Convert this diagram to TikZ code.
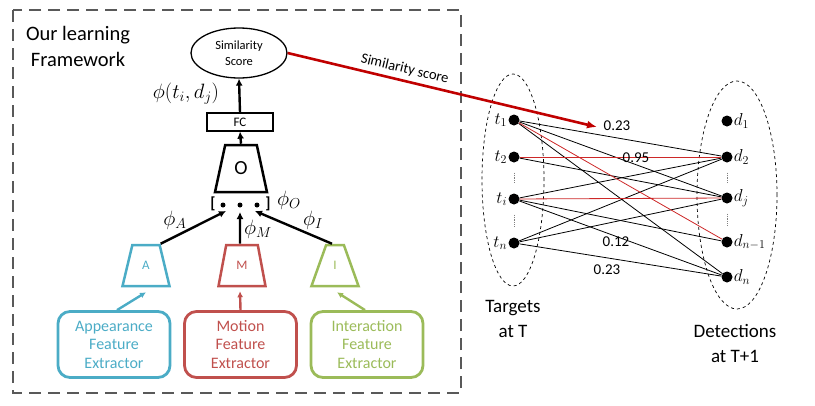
\documentclass[tikz,border=0pt]{standalone}
\usepackage{fontspec}
\setmainfont{Carlito}
\usetikzlibrary{shapes.geometric,arrows.meta,calc}
\definecolor{cA}{RGB}{75,172,198}
\definecolor{cM}{RGB}{192,80,77}
\definecolor{cI}{RGB}{155,187,89}
\definecolor{dred}{RGB}{192,0,0}
\definecolor{ered}{RGB}{205,40,40}
\definecolor{fgray}{RGB}{89,89,89}
\begin{document}
\begin{tikzpicture}[x=1pt,y=-1pt,
  trap/.style={trapezium, trapezium left angle=72, trapezium right angle=72, trapezium stretches=true,
    line width=2.5pt, minimum width=47pt, minimum height=41pt, inner sep=0pt, font=\fontsize{13}{15}\selectfont},
  featbox/.style={draw, rounded corners=12pt, line width=2.8pt, minimum width=112pt, minimum height=66pt,
    inner sep=0pt, align=center, font=\fontsize{16}{18.5}\selectfont},
  bigarrow/.style={line width=2.4pt, -{Latex[length=7pt,width=7pt]}},
  colarrow/.style={line width=2.4pt, -{Latex[length=6pt,width=6pt]}},
  mathlbl/.style={font=\fontsize{21}{24}\selectfont, inner sep=0pt},
  vdot/.style={circle, fill, inner sep=0pt, minimum size=5pt},
  gdot/.style={circle, fill, inner sep=0pt, minimum size=11pt},
  tlbl/.style={font=\fontsize{17}{20}\selectfont, inner sep=1pt},
  edge/.style={line width=0.8pt},
  redge/.style={line width=0.8pt, ered},
  numlbl/.style={font=\fontsize{15}{18}\selectfont, inner sep=0pt},
  setell/.style={ellipse, draw, dashed, line width=0.7pt, inner sep=0pt},
  bigtext/.style={align=center, font=\fontsize{19}{25}\selectfont, inner sep=0pt},
]
\useasboundingbox (0,0) rectangle (815,405);

% framework box
\draw[fgray, line width=2.8pt, dash pattern=on 12pt off 7pt] (13,10) rectangle (461,393);
\node[align=center, font=\fontsize{20.5}{26}\selectfont, inner sep=0pt] (title) at (78,46) {Our learning\\Framework};

% top part
\node[ellipse, draw, line width=1.3pt, minimum width=96pt, minimum height=50pt, inner sep=0pt,
  align=center, font=\fontsize{12.5}{15.5}\selectfont] (sim) at (239,53) {Similarity\\Score};
\node[draw, line width=1.3pt, minimum width=66pt, minimum height=18pt, inner sep=0pt,
  font=\fontsize{13}{15}\selectfont] (fc) at (240,122) {FC};
\node[trap, draw, minimum width=52pt, minimum height=47pt, font=\fontsize{20}{24}\selectfont] (O) at (241,168.5) {O};
\node[mathlbl] (phiij) at (186,94) {$\phi(t_i,d_j)$};

\node[font=\fontsize{16}{18}\selectfont\bfseries, inner sep=0pt] (lb) at (213,204) {[};
\node[font=\fontsize{16}{18}\selectfont\bfseries, inner sep=0pt] (rb) at (268,204) {]};
\node[vdot] (v1) at (223,205) {};
\node[vdot] (v2) at (240,205) {};
\node[vdot] (v3) at (257,205) {};
\node[mathlbl] (phiO) at (289,200) {$\phi_O$};

\draw[bigarrow] (fc.north) -- (sim.south);
\draw[bigarrow] (O.north) -- (fc.south);

% extractor trapezia
\node[trap, draw=cA, text=cA] (A) at (146,265.5) {A};
\node[trap, draw=cM, text=cM] (M) at (242,265.5) {M};
\node[trap, draw=cI, text=cI] (I) at (335,265.5) {I};

\coordinate (eA) at (226,211);
\coordinate (eM) at (240,212);
\coordinate (eI) at (255,211);
\draw[bigarrow] (A.top right corner) -- (eA);
\draw[bigarrow] ([xshift=-2pt]M.north) -- (eM);
\draw[bigarrow] ([xshift=-3pt]I.north) -- (eI);
\node[mathlbl] (phiA) at (175,220) {$\phi_A$};
\node[mathlbl] (phiM) at (258,229) {$\phi_M$};
\node[mathlbl] (phiI) at (313,220) {$\phi_I$};

% feature boxes
\node[featbox, draw=cA, text=cA] (app) at (114,344.5) {Appearance\\Feature\\Extractor};
\node[featbox, draw=cM, text=cM] (mot) at (240.5,344.5) {Motion\\Feature\\Extractor};
\node[featbox, draw=cI, text=cI] (int) at (367,344.5) {Interaction\\Feature\\Extractor};

\draw[colarrow, cA] ([xshift=3pt]app.north) -- ([yshift=-5pt]A.south);
\draw[colarrow, cM] (mot.north) -- ([yshift=-4pt,xshift=-2pt]M.south);
\draw[colarrow, cI] ([xshift=-2pt]int.north) -- ([yshift=-5pt,xshift=2pt]I.south);

% right side: bipartite graph
\node[setell, minimum width=62pt, minimum height=212pt] (tset) at (513,180) {};
\node[setell, minimum width=80pt, minimum height=228pt] (dset) at (737,195) {};

\node[gdot] (t1) at (514,120) {};
\node[gdot] (t2) at (514,157) {};
\node[gdot] (ti) at (514,199) {};
\node[gdot] (tn) at (514,243) {};
\node[gdot] (d1) at (727,121) {};
\node[gdot] (d2) at (727,157) {};
\node[gdot] (dj) at (727,198) {};
\node[gdot] (dn1) at (727,242) {};
\node[gdot] (dn) at (727,277) {};

\draw[edge] (t1) -- (d2);
\draw[edge] (t1) -- (dj);
\draw[edge] (t1) -- (dn);
\draw[edge] (t2) -- (dj);
\draw[edge] (ti) -- (d2);
\draw[edge] (ti) -- (dn1);
\draw[edge] (ti) -- (dn);
\draw[edge] (tn) -- (d2);
\draw[edge] (tn) -- (dj);
\draw[edge] (tn) -- (dn);
\draw[redge] (t1) -- (dn1);
\draw[redge] (t2) -- (d2);
\draw[redge] (ti) -- (dj);

\draw[gray, densely dotted, line width=0.9pt, shorten <=10pt, shorten >=10pt] (t2) -- (ti);
\draw[gray, densely dotted, line width=0.9pt, shorten <=10pt, shorten >=10pt] (ti) -- (tn);
\draw[gray, densely dotted, line width=0.9pt, shorten <=10pt, shorten >=10pt] (d2) -- (dj);
\draw[gray, densely dotted, line width=0.9pt, shorten <=10pt, shorten >=10pt] (dj) -- (dn1);

\node[tlbl, anchor=east] (lt1) at (t1.west) {$t_1$};
\node[tlbl, anchor=east] (lt2) at (t2.west) {$t_2$};
\node[tlbl, anchor=east] (lti) at (ti.west) {$t_i$};
\node[tlbl, anchor=east] (ltn) at (tn.west) {$t_n$};
\node[tlbl, anchor=west] (ld1) at (d1.east) {$d_1$};
\node[tlbl, anchor=west] (ld2) at (d2.east) {$d_2$};
\node[tlbl, anchor=west] (ldj) at (dj.east) {$d_j$};
\node[tlbl, anchor=west] (ldn1) at (dn1.east) {$d_{n-1}$};
\node[tlbl, anchor=west] (ldn) at (dn.east) {$d_n$};

\node[numlbl] (w1) at (617,126) {0.23};
\node[numlbl] (w2) at (636,158) {0.95};
\node[numlbl] (w3) at (616,242) {0.12};
\node[numlbl] (w4) at (607,270) {0.23};

\node[bigtext] (tgt) at (513,318.5) {Targets\\at T};
\node[bigtext] (det) at (735,343) {Detections\\at T+1};

% similarity score arrow
\coordinate (simend) at (597,127);
\draw[dred, line width=2.6pt, -{Latex[length=10pt,width=8pt]}] (sim.east) -- (simend)
  node[pos=0.37, above=4pt, sloped, text=black, font=\fontsize{14.5}{17}\selectfont, inner sep=0pt] {Similarity score};
\end{tikzpicture}
\end{document}
